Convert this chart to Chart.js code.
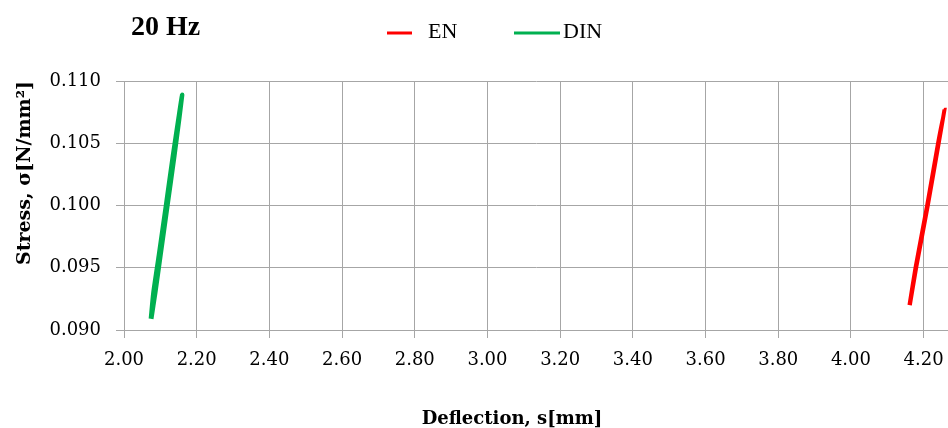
<!DOCTYPE html>
<html>
<head>
<meta charset="utf-8">
<script src="https://cdn.jsdelivr.net/npm/chart.js@4/dist/chart.umd.min.js"></script>
<style>
  html, body { margin: 0; padding: 0; background: #fff; }
  #wrap { width: 948px; height: 428px; }
</style>
</head>
<body>
<div id="wrap"><canvas id="stressChart" width="948" height="428"></canvas></div>
<script>
// series names and colours
const seriesNames = ["EN", "DIN"]
const seriesColors = ["#ff0000", "#00b050"]

// EN loop (loading then unloading)
const enDeflection = [4.161, 4.1775, 4.2095, 4.2395, 4.2573, 4.2415, 4.2115, 4.1795, 4.162]
const enStress = [0.0920, 0.0950, 0.1000, 0.1050, 0.1077, 0.1050, 0.1000, 0.0950, 0.0920]

// DIN loop
const dinDeflection = [2.074, 2.081, 2.096, 2.1155, 2.1346, 2.150, 2.160, 2.152, 2.1386, 2.1195, 2.1004, 2.086, 2.075]
const dinStress = [0.0909, 0.0930, 0.0960, 0.1000, 0.1040, 0.1070, 0.1089, 0.1070, 0.1040, 0.1000, 0.0960, 0.0930, 0.0909]

// axis ticks
const xTicks = [2.0, 2.2, 2.4, 2.6, 2.8, 3.0, 3.2, 3.4, 3.6, 3.8, 4.0, 4.2]
const yTicks = [0.090, 0.095, 0.100, 0.105, 0.110]
const xMax = 4.267

const toPoints = (xs, ys) => xs.map((x, i) => ({ x: x, y: ys[i] }))

const gridColor = "#a6a6a6"

// title, legend and x-axis title drawn by hand to sit where the original has them
const decorations = {
  id: "decorations",
  afterDraw(chart) {
    const ctx = chart.ctx
    ctx.save()
    ctx.fillStyle = "#000"
    ctx.textBaseline = "alphabetic"

    ctx.font = "bold 28px 'Liberation Serif'"
    ctx.textAlign = "left"
    ctx.fillText("20 Hz", 131, 35)

    // legend
    const items = [
      { x0: 387, x1: 412, tx: 428 },
      { x0: 514, x1: 560, tx: 563 },
    ]
    chart.data.datasets.forEach((ds, i) => {
      const it = items[i]
      ctx.strokeStyle = ds.borderColor
      ctx.lineWidth = 3
      ctx.beginPath()
      ctx.moveTo(it.x0, 33)
      ctx.lineTo(it.x1, 33)
      ctx.stroke()
      ctx.font = "22px 'Liberation Serif'"
      ctx.fillText(ds.label, it.tx, 38)
    })

    ctx.font = "bold 18px 'DejaVu Serif'"
    ctx.textAlign = "center"
    ctx.fillText("Deflection, s[mm]", 512, 424)
    ctx.restore()
  },
}

const chart = new Chart(document.getElementById("stressChart"), {
  type: "scatter",
  data: {
    datasets: [
      {
        label: seriesNames[0],
        data: toPoints(enDeflection, enStress),
        borderColor: seriesColors[0],
        backgroundColor: seriesColors[0],
        borderWidth: 4,
        showLine: true,
        pointRadius: 0,
        tension: 0.1,
      },
      {
        label: seriesNames[1],
        data: toPoints(dinDeflection, dinStress),
        borderColor: seriesColors[1],
        backgroundColor: seriesColors[1],
        borderWidth: 4.5,
        showLine: true,
        pointRadius: 0,
        tension: 0.2,
      },
    ],
  },
  options: {
    responsive: false,
    animation: false,
    layout: { padding: { top: 81, right: 0, left: 0, bottom: 0 } },
    plugins: {
      legend: { display: false },
      title: { display: false },
      tooltip: { enabled: false },
    },
    scales: {
      x: {
        type: "linear",
        min: xTicks[0],
        max: xMax,
        afterFit: (scale) => {
          scale.height = 98
          scale.paddingRight = 0
        },
        afterBuildTicks: (scale) => { scale.ticks = xTicks.map((v) => ({ value: v })) },
        grid: { color: gridColor, tickLength: 8, lineWidth: 1 },
        border: { color: gridColor },
        ticks: {
          autoSkip: false,
          maxRotation: 0,
          padding: 12,
          color: "#000",
          font: { family: "DejaVu Serif", size: 18 },
          callback: (v) => Number(v).toFixed(2),
        },
      },
      y: {
        min: yTicks[0],
        max: yTicks[yTicks.length - 1],
        afterFit: (scale) => { scale.width = 124 },
        afterBuildTicks: (scale) => { scale.ticks = yTicks.map((v) => ({ value: v })) },
        grid: { color: gridColor, tickLength: 8, lineWidth: 1 },
        border: { color: gridColor },
        ticks: {
          padding: 15,
          color: "#000",
          font: { family: "DejaVu Serif", size: 18 },
          callback: (v) => Number(v).toFixed(3),
        },
        title: {
          display: true,
          text: "Stress, σ[N/mm²]",
          align: "end",
          color: "#000",
          padding: { top: 14, bottom: 0 },
          font: { family: "DejaVu Serif", size: 19, weight: "bold" },
        },
      },
    },
  },
  plugins: [decorations],
})
</script>
</body>
</html>
